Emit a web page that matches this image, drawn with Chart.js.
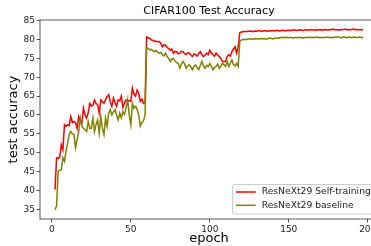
<!DOCTYPE html>
<html>
<head>
<meta charset="utf-8">
<script src="https://cdn.jsdelivr.net/npm/chart.js@4.4.1/dist/chart.umd.min.js"></script>
<style>
  html, body { margin: 0; padding: 0; overflow: hidden; background: #fff; }
  #wrap { width: 371px; height: 246px; overflow: hidden; }
</style>
</head>
<body>
<div id="wrap"><canvas id="acc-chart" width="380" height="246"></canvas></div>
<script>
// Données (une valeur par époque, à partir de l'époque 2)
const FIRST_EPOCH = 2;

const selfTraining = [
  // 2-11
  40.2, 48.6, 48.4, 48.9, 52.1, 50.8, 57.4, 57.0, 57.4, 57.2,
  // 12-21
  59.6, 58.0, 58.3, 57.9, 56.5, 59.6, 58.6, 57.8, 61.8, 60.0,
  // 22-31
  59.2, 60.5, 63.1, 62.4, 62.6, 64.0, 63.0, 62.8, 60.5, 64.0,
  // 32-41
  63.5, 63.1, 64.0, 64.9, 65.4, 63.4, 62.3, 64.5, 63.3, 62.3,
  // 42-51
  64.0, 63.8, 65.0, 62.0, 63.2, 64.0, 63.6, 63.8, 63.6, 67.1,
  // 52-59
  65.6, 65.0, 66.6, 65.8, 63.6, 64.2, 63.1, 63.2,
  // 60-69
  80.7, 80.5, 80.3, 79.9, 79.8, 79.5, 79.6, 79.4, 79.5, 79.0,
  // 70-79
  78.1, 78.6, 78.5, 77.9, 77.6, 77.1, 77.5, 76.4, 76.9, 76.8,
  // 80-89
  76.2, 76.4, 76.9, 76.8, 76.3, 76.0, 76.5, 76.4, 75.9, 75.5,
  // 90-99
  76.2, 76.0, 75.6, 76.3, 76.8, 76.0, 75.5, 75.9, 76.4, 76.0,
  // 100-109
  77.2, 76.5, 76.0, 75.6, 76.4, 75.9, 75.5, 75.0, 74.2, 74.1,
  // 110-118
  74.2, 75.5, 76.0, 75.6, 76.8, 77.5, 78.1, 76.4, 78.1,
  // 119-128
  81.8, 82.0, 82.1, 82.2, 82.1, 82.2, 82.2, 82.3, 82.1, 82.2,
  // 129-138
  82.3, 82.2, 82.4, 82.3, 82.2, 82.3, 82.4, 82.3, 82.2, 82.4,
  // 139-148
  82.3, 82.4, 82.3, 82.5, 82.4, 82.3, 82.4, 82.5, 82.4, 82.3,
  // 149-158
  82.5, 82.4, 82.5, 82.4, 82.6, 82.5, 82.4, 82.5, 82.6, 82.5,
  // 159-168
  82.4, 82.6, 82.5, 82.6, 82.5, 82.7, 82.6, 82.5, 82.6, 82.5,
  // 169-178
  82.7, 82.6, 82.5, 82.6, 82.7, 82.6, 82.5, 82.7, 82.6, 82.8,
  // 179-188
  82.6, 82.7, 82.6, 82.5, 82.7, 82.6, 82.7, 82.8, 82.6, 82.7,
  // 189-197
  82.6, 82.7, 82.8, 82.6, 82.7, 82.6, 82.7, 82.6, 82.6,
];

const baseline = [
  // 2-11
  34.9, 35.8, 45.1, 45.3, 45.5, 48.6, 47.7, 50.5, 52.6, 54.8,
  // 12-21
  55.6, 55.0, 54.8, 51.3, 53.5, 55.6, 59.2, 57.0, 56.5, 56.1,
  // 22-31
  55.6, 58.3, 56.5, 56.5, 59.2, 55.6, 57.5, 58.7, 55.2, 59.6,
  // 32-41
  56.5, 54.8, 59.2, 57.0, 60.5, 61.4, 60.0, 60.8, 61.4, 60.0,
  // 42-51
  58.7, 60.5, 59.2, 60.9, 60.2, 61.8, 64.0, 60.0, 57.4, 63.1,
  // 52-59
  61.8, 62.3, 61.5, 60.0, 57.0, 58.0, 58.5, 59.8,
  // 60-69
  77.9, 77.6, 77.3, 77.4, 77.0, 76.8, 77.1, 76.6, 76.4, 76.6,
  // 70-79
  76.0, 75.7, 76.4, 75.5, 75.0, 74.2, 74.8, 75.0, 74.3, 73.9,
  // 80-89
  73.7, 72.4, 73.5, 74.2, 73.6, 72.4, 73.0, 73.3, 72.8, 72.0,
  // 90-99
  72.9, 73.3, 72.6, 72.0, 73.1, 74.2, 73.0, 72.4, 73.2, 72.8,
  // 100-109
  73.7, 72.9, 72.0, 72.6, 72.9, 73.5, 72.4, 72.9, 73.7, 73.3,
  // 110-118
  72.9, 74.2, 72.9, 73.8, 74.6, 73.3, 73.0, 73.7, 72.9,
  // 119-128
  79.6, 79.9, 80.0, 80.1, 80.0, 80.1, 80.2, 80.1, 80.2, 80.1,
  // 129-138
  80.3, 80.2, 80.1, 80.3, 80.2, 80.3, 80.2, 80.1, 80.3, 80.4,
  // 139-148
  80.3, 80.2, 80.4, 80.3, 80.5, 80.4, 80.6, 80.5, 80.6, 80.5,
  // 149-158
  80.6, 80.5, 80.6, 80.5, 80.4, 80.6, 80.5, 80.6, 80.5, 80.6,
  // 159-168
  80.4, 80.5, 80.6, 80.5, 80.7, 80.5, 80.6, 80.5, 80.6, 80.7,
  // 169-178
  80.5, 80.6, 80.5, 80.6, 80.5, 80.7, 80.6, 80.5, 80.6, 80.5,
  // 179-188
  80.7, 80.6, 80.8, 80.6, 80.5, 80.6, 80.7, 80.6, 80.5, 80.7,
  // 189-197
  80.6, 80.5, 80.7, 80.6, 80.5, 80.6, 80.7, 80.5, 80.6,
];

const seriesLabels = ["ResNeXt29 Self-training", "ResNeXt29 baseline"];
const xTicks = [0, 50, 100, 150, 200];
const yTicks = [35, 40, 45, 50, 55, 60, 65, 70, 75, 80, 85];

const FONT = "DejaVu Sans";
const RED = "#ff0000";
const OLIVE = "#808000";

const epochs = selfTraining.map((_, i) => FIRST_EPOCH + i);
const toPoints = (vals) => vals.map((v, i) => ({ x: epochs[i], y: v }));

// Cadre complet autour de la zone du graphique (style matplotlib)
const framePlugin = {
  id: "frame",
  afterDraw(chart) {
    const { ctx, chartArea: a } = chart;
    ctx.save();
    ctx.strokeStyle = "#333";
    ctx.lineWidth = 0.8;
    ctx.strokeRect(a.left, a.top, a.right - a.left, a.bottom - a.top);
    ctx.restore();
  },
};

// Légende en bas à droite, dans la zone du graphique
const cornerLegend = {
  id: "cornerLegend",
  afterDraw(chart) {
    const { ctx, chartArea: a } = chart;
    const colors = [RED, OLIVE];
    const boxLeft = 232.5;
    const boxRight = a.right - 5;
    const boxBottom = a.bottom - 5;
    const boxTop = boxBottom - 29.5;
    ctx.save();
    ctx.fillStyle = "rgba(255,255,255,0.8)";
    ctx.strokeStyle = "#cccccc";
    ctx.lineWidth = 1;
    ctx.beginPath();
    ctx.roundRect(boxLeft, boxTop, boxRight - boxLeft, boxBottom - boxTop, 2);
    ctx.fill();
    ctx.stroke();
    ctx.font = "9.2px '" + FONT + "'";
    ctx.textBaseline = "middle";
    ctx.fillStyle = "#222";
    seriesLabels.forEach((label, i) => {
      const y = boxTop + 7.5 + i * 13.3;
      ctx.strokeStyle = colors[i];
      ctx.lineWidth = 1.5;
      ctx.beginPath();
      ctx.moveTo(236, y);
      ctx.lineTo(255.7, y);
      ctx.stroke();
      ctx.fillText(label, 261.7, y);
    });
    ctx.restore();
  },
};

const ctx = document.getElementById("acc-chart").getContext("2d");

new Chart(ctx, {
  type: "line",
  data: {
    datasets: [
      {
        label: seriesLabels[0],
        data: toPoints(selfTraining),
        borderColor: RED,
        borderWidth: 1.5,
        pointRadius: 0,
        tension: 0,
        fill: false,
        order: 1,
      },
      {
        label: seriesLabels[1],
        data: toPoints(baseline),
        borderColor: OLIVE,
        borderWidth: 1.5,
        pointRadius: 0,
        tension: 0,
        fill: false,
        order: 0,
      },
    ],
  },
  options: {
    responsive: false,
    animation: false,
    devicePixelRatio: 1,
    layout: { padding: { left: 0, right: 2, top: 0, bottom: 0 } },
    plugins: {
      legend: { display: false },
      tooltip: { enabled: false },
      title: {
        display: true,
        text: "CIFAR100 Test Accuracy",
        color: "#000",
        fullSize: false,
        font: { family: FONT, size: 11, weight: "normal" },
        padding: { top: 5, bottom: 1.8 },
      },
    },
    scales: {
      x: {
        type: "linear",
        min: -7.5,
        max: 206.5,
        afterFit: (scale) => {
          scale.height = 27;
        },
        afterBuildTicks: (scale) => {
          scale.ticks = xTicks.map((v) => ({ value: v }));
        },
        grid: {
          drawOnChartArea: false,
          drawTicks: true,
          tickLength: 3.5,
          tickWidth: 0.8,
          tickColor: "#333",
        },
        border: { display: false },
        ticks: {
          color: "#222",
          padding: 2,
          maxRotation: 0,
          font: { family: FONT, size: 9 },
        },
        title: {
          display: true,
          text: "epoch",
          color: "#000",
          font: { family: FONT, size: 13 },
          padding: { top: 0, bottom: 0 },
        },
      },
      y: {
        min: 32.4,
        max: 85.2,
        afterFit: (scale) => {
          scale.width = 40;
        },
        afterBuildTicks: (scale) => {
          scale.ticks = yTicks.map((v) => ({ value: v }));
        },
        grid: {
          drawOnChartArea: false,
          drawTicks: true,
          tickLength: 3.5,
          tickWidth: 0.8,
          tickColor: "#333",
        },
        border: { display: false },
        ticks: {
          color: "#222",
          padding: 1.5,
          font: { family: FONT, size: 9 },
        },
        title: {
          display: true,
          text: "test accuracy",
          color: "#000",
          font: { family: FONT, size: 13 },
          padding: { top: 6, bottom: 0 },
        },
      },
    },
  },
  plugins: [framePlugin, cornerLegend],
});
</script>
</body>
</html>
